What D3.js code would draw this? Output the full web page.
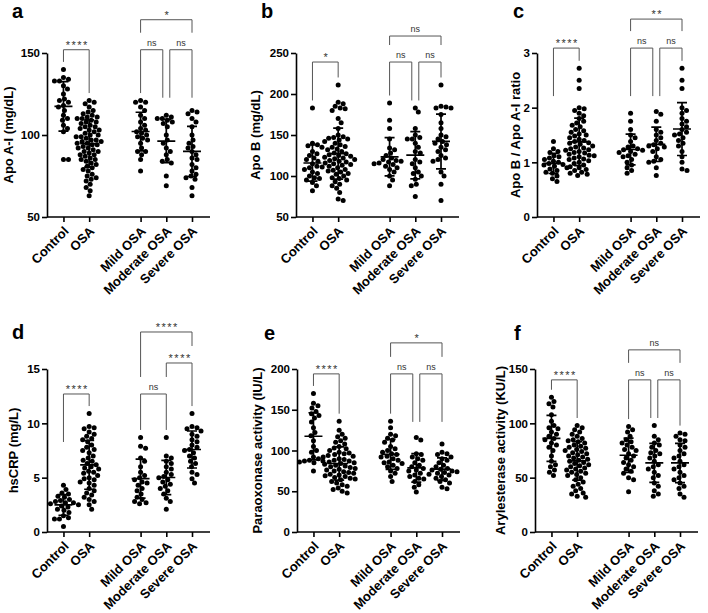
<!DOCTYPE html>
<html>
<head>
<meta charset="utf-8">
<script src="https://cdn.jsdelivr.net/npm/d3@7"></script>
<style>
  body { margin: 0; background: #fff; }
  text { font-family: "Liberation Sans", Arial, sans-serif; }
</style>
</head>
<body>
<div id="chart"></div>
<script>
// categories and their slots on the x axis (gap between OSA and Mild OSA)
let groups = ["Control", "OSA", "Mild OSA", "Moderate OSA", "Severe OSA"];
let groupSlot = [0, 1, 3, 4, 5];

// a - Apo A-I (mg/dL)
let apoA_control = [140, 135, 134, 133, 133, 130, 128, 125, 122, 121, 120, 118, 117, 115, 112, 110, 109, 106, 104, 102, 85, 85];
let apoA_osa = [121, 120, 119, 117, 115, 114, 113, 112, 111, 111, 110, 110, 109, 108, 108, 107, 106, 105, 105, 104, 103, 103, 102, 101, 100, 100, 99, 99, 98, 97, 97, 96, 96, 95, 95, 94, 94, 93, 92, 92, 91, 90, 90, 89, 88, 88, 87, 86, 85, 85, 84, 83, 82, 81, 80, 79, 78, 76, 75, 74, 73, 72, 70, 68, 66, 63];
let apoA_mild = [121, 120, 120, 117, 115, 112, 110, 108, 106, 104, 103, 102, 101, 100, 99, 98, 97, 95, 92, 90, 90, 88, 85, 78];
let apoA_moderate = [112, 111, 110, 110, 109, 108, 107, 105, 100, 97, 95, 92, 90, 88, 85, 84, 83, 75, 69];
let apoA_severe = [115, 114, 113, 110, 108, 105, 100, 97, 95, 93, 92, 90, 88, 86, 85, 82, 80, 78, 76, 75, 74, 73, 68, 63];

// b - Apo B (mg/dL)
let apoB_control = [183, 140, 138, 137, 135, 130, 127, 125, 122, 120, 118, 115, 112, 110, 108, 105, 103, 100, 98, 97, 95, 92, 88, 82];
let apoB_osa = [211, 190, 188, 185, 183, 182, 180, 170, 165, 158, 150, 148, 147, 146, 145, 144, 142, 140, 138, 136, 135, 133, 132, 130, 128, 127, 126, 125, 124, 123, 122, 121, 120, 119, 118, 117, 116, 115, 114, 113, 112, 111, 110, 108, 107, 106, 105, 103, 102, 100, 98, 97, 95, 93, 90, 88, 85, 80, 72, 70];
let apoB_mild = [189, 168, 158, 145, 134, 132, 128, 125, 122, 120, 119, 118, 117, 116, 115, 114, 112, 110, 108, 105, 100, 95, 88];
let apoB_moderate = [183, 178, 158, 150, 147, 145, 145, 140, 135, 130, 128, 120, 117, 115, 110, 105, 103, 100, 96, 90, 88, 75];
let apoB_severe = [211, 185, 184, 183, 183, 175, 165, 158, 150, 148, 145, 142, 140, 138, 135, 132, 130, 125, 122, 120, 118, 105, 100, 90, 70];

// c - Apo B / Apo A-I ratio
let ratio_control = [1.38, 1.25, 1.2, 1.18, 1.12, 1.1, 1.08, 1.05, 1.02, 1.0, 0.98, 0.96, 0.95, 0.93, 0.9, 0.88, 0.85, 0.82, 0.8, 0.75, 0.7, 0.65];
let ratio_osa = [2.72, 2.5, 2.35, 2.0, 1.98, 1.95, 1.9, 1.85, 1.8, 1.75, 1.72, 1.68, 1.65, 1.6, 1.58, 1.55, 1.52, 1.5, 1.48, 1.45, 1.42, 1.4, 1.38, 1.36, 1.35, 1.33, 1.3, 1.28, 1.26, 1.25, 1.23, 1.22, 1.2, 1.18, 1.17, 1.15, 1.13, 1.12, 1.1, 1.08, 1.06, 1.05, 1.03, 1.0, 0.98, 0.95, 0.92, 0.9, 0.87, 0.85, 0.82, 0.8, 0.78, 0.76];
let ratio_mild = [1.9, 1.75, 1.6, 1.5, 1.45, 1.38, 1.3, 1.28, 1.25, 1.23, 1.22, 1.2, 1.18, 1.15, 1.12, 1.1, 1.05, 1.0, 0.95, 0.9, 0.85, 0.8];
let ratio_moderate = [1.93, 1.88, 1.75, 1.6, 1.55, 1.5, 1.45, 1.4, 1.35, 1.32, 1.3, 1.28, 1.25, 1.2, 1.1, 1.05, 1.02, 1.0, 0.9, 0.76];
let ratio_severe = [2.72, 2.5, 2.35, 2.0, 1.95, 1.9, 1.8, 1.75, 1.7, 1.65, 1.6, 1.55, 1.52, 1.5, 1.45, 1.4, 1.35, 1.3, 1.2, 1.1, 1.0, 0.88, 0.85];

// d - hsCRP (mg/L)
let crp_control = [4.3, 3.9, 3.6, 3.5, 3.3, 3.2, 3.0, 2.9, 2.8, 2.7, 2.7, 2.6, 2.5, 2.4, 2.3, 2.1, 2.0, 1.8, 1.5, 1.3, 1.2, 1.2, 0.5];
let crp_osa = [10.9, 9.7, 9.6, 9.5, 9.2, 9.0, 8.8, 8.6, 8.5, 8.3, 8.0, 7.8, 7.6, 7.5, 7.3, 7.0, 6.8, 6.6, 6.5, 6.3, 6.2, 6.0, 5.9, 5.8, 5.6, 5.5, 5.4, 5.2, 5.0, 4.9, 4.8, 4.6, 4.5, 4.3, 4.0, 3.8, 3.6, 3.4, 3.2, 3.0, 2.8, 2.5, 2.1];
let crp_mild = [8.7, 7.9, 7.7, 6.8, 6.5, 6.0, 5.5, 5.2, 5.0, 4.8, 4.6, 4.5, 4.3, 4.0, 3.8, 3.5, 3.2, 3.0, 2.8, 2.7, 2.6];
let crp_moderate = [8.7, 7.0, 6.8, 6.5, 6.3, 6.0, 5.8, 5.5, 5.3, 5.1, 5.0, 4.8, 4.6, 4.4, 4.2, 4.0, 3.8, 3.5, 3.1, 2.8, 2.1];
let crp_severe = [10.9, 9.7, 9.6, 9.5, 9.3, 9.0, 8.8, 8.5, 8.3, 8.0, 7.8, 7.6, 7.5, 7.3, 7.0, 6.8, 6.5, 6.3, 6.0, 5.5, 5.3, 4.9, 4.5];

// e - Paraoxonase activity (IU/L)
let pon_control = [170, 158, 155, 152, 148, 145, 143, 140, 135, 128, 122, 118, 112, 105, 100, 98, 92, 90, 88, 87, 87, 86, 85, 75];
let pon_osa = [136, 125, 120, 117, 115, 112, 110, 108, 105, 103, 102, 100, 98, 97, 96, 95, 94, 93, 92, 90, 89, 88, 87, 86, 85, 84, 83, 82, 81, 80, 79, 78, 77, 76, 75, 74, 73, 72, 71, 70, 69, 68, 67, 66, 65, 64, 62, 60, 58, 56, 54, 52, 50, 48];
let pon_mild = [136, 128, 120, 118, 115, 113, 110, 105, 102, 100, 98, 96, 95, 93, 92, 90, 88, 86, 85, 84, 82, 80, 78, 75, 72, 68, 62];
let pon_moderate = [116, 113, 96, 95, 92, 90, 88, 85, 82, 80, 78, 76, 75, 72, 70, 68, 66, 65, 62, 58, 55, 49];
let pon_severe = [108, 98, 96, 95, 92, 90, 88, 85, 82, 80, 78, 77, 76, 75, 74, 73, 72, 71, 70, 68, 66, 64, 62, 60, 55, 53];

// f - Arylesterase activity (KU/L)
let aryl_control = [124, 120, 118, 115, 108, 102, 98, 96, 95, 92, 90, 88, 86, 85, 82, 80, 78, 75, 70, 65, 62, 60, 57, 55, 52];
let aryl_osa = [98, 96, 94, 92, 90, 88, 86, 85, 84, 83, 82, 80, 79, 78, 77, 76, 75, 74, 73, 72, 71, 70, 69, 68, 67, 66, 65, 64, 63, 62, 61, 60, 59, 58, 57, 56, 55, 54, 53, 52, 50, 48, 46, 44, 42, 40, 38, 36, 35, 33, 32];
let aryl_mild = [97, 94, 92, 88, 85, 83, 82, 80, 78, 76, 75, 72, 70, 68, 66, 64, 62, 60, 58, 56, 54, 50, 48, 37];
let aryl_moderate = [98, 88, 85, 82, 80, 78, 75, 73, 72, 70, 68, 65, 62, 60, 58, 55, 52, 50, 45, 42, 38, 35, 33];
let aryl_severe = [91, 90, 88, 85, 84, 80, 78, 75, 72, 70, 68, 65, 62, 60, 58, 55, 52, 50, 48, 45, 42, 40, 35, 32];

// significance comparisons (group index pairs) and labels per panel
let sigPairs = [[0, 1], [2, 3], [3, 4], [2, 4]];
let sigLevels = [0, 0, 0, 1];
let sigLevelsD = [0, 0, 1, 2];
let sigA = ["****", "ns", "ns", "*"];
let sigB = ["*", "ns", "ns", "ns"];
let sigC = ["****", "ns", "ns", "**"];
let sigD = ["****", "ns", "****", "****"];
let sigE = ["****", "ns", "ns", "*"];
let sigF = ["****", "ns", "ns", "ns"];

// y ticks
let ticksA = [50, 100, 150];
let ticksB = [50, 100, 150, 200, 250];
let ticksC = [0, 1, 2, 3];
let ticksD = [0, 5, 10, 15];
let ticksE = [0, 50, 100, 150, 200];
let ticksF = [0, 50, 100, 150];

let panels = [
  {letter: "a", title: "Apo A-I (mg/dL)", data: [apoA_control, apoA_osa, apoA_mild, apoA_moderate, apoA_severe],
   ticks: ticksA, sig: sigA, levels: sigLevels, x0: 47, yTop: 53, yBot: 217, lx: 12, ly: 18, tx: 12.5, base: 152, step: 30},
  {letter: "b", title: "Apo B (mg/dL)", data: [apoB_control, apoB_osa, apoB_mild, apoB_moderate, apoB_severe],
   ticks: ticksB, sig: sigB, levels: sigLevels, x0: 296, yTop: 53, yBot: 217, lx: 261, ly: 18, tx: 259.5, base: 239, step: 26},
  {letter: "c", title: "Apo B / Apo A-I ratio", data: [ratio_control, ratio_osa, ratio_mild, ratio_moderate, ratio_severe],
   ticks: ticksC, sig: sigC, levels: sigLevels, x0: 537, yTop: 53, yBot: 217, lx: 513, ly: 18, tx: 520, base: 3.09, step: 29},
  {letter: "d", title: "hsCRP (mg/L)", data: [crp_control, crp_osa, crp_mild, crp_moderate, crp_severe],
   ticks: ticksD, sig: sigD, levels: sigLevelsD, x0: 47, yTop: 369, yBot: 532, lx: 12, ly: 339, tx: 17.5, base: 12.7, step: 31},
  {letter: "e", title: "Paraoxonase activity (IU/L)", data: [pon_control, pon_osa, pon_mild, pon_moderate, pon_severe],
   ticks: ticksE, sig: sigE, levels: sigLevels, x0: 297, yTop: 369, yBot: 532, lx: 264, ly: 340, tx: 261.5, base: 194, step: 31},
  {letter: "f", title: "Arylesterase activity (KU/L)", data: [aryl_control, aryl_osa, aryl_mild, aryl_moderate, aryl_severe],
   ticks: ticksF, sig: sigF, levels: sigLevels, x0: 535, yTop: 369, yBot: 532, lx: 514, ly: 340, tx: 504.5, base: 140, step: 30}
];

let r = 2.5;

let svg = d3.select("#chart")
    .append("svg")
    .attr("width", 708)
    .attr("height", 613);

//simple deterministic beeswarm: offsets around the column centre
function swarm(values, y) {
  let pts = values.map(v => ({v: v, y: y(v)})).sort((a, b) => a.y - b.y);
  let placed = [];
  pts.forEach(p => {
    for (let k = 0; k < 400; k++) {
      let off = k === 0 ? 0 : (k % 2 ? 1 : -1) * Math.ceil(k / 2) * 0.5;
      let hit = placed.some(q => (q.dx - off) ** 2 + (q.y - p.y) ** 2 < (2 * r) ** 2);
      if (!hit) { p.dx = off; break; }
    }
    placed.push(p);
  });
  return placed;
}

panels.forEach(function(p) {
  let domain = d3.extent(p.ticks);
  let y = d3.scaleLinear().domain(domain).range([p.yBot, p.yTop]);
  let x = d3.scaleLinear().domain([-0.64, 5.7]).range([p.x0, p.x0 + 163]);
  let gx = i => x(groupSlot[i]);

  let g = svg.append("g");

  //axes
  g.append("g")
      .attr("transform", `translate(${p.x0}, 0)`)
      .call(d3.axisLeft(y).tickValues(p.ticks).tickFormat(d => d).tickSize(5).tickPadding(2).tickSizeOuter(0))
      .call(a => a.select(".domain").attr("stroke-width", 1.6))
      .call(a => a.selectAll(".tick line").attr("stroke-width", 1.6))
      .call(a => a.selectAll(".tick text").attr("font-size", 11.5).attr("font-weight", "bold")
        .attr("font-family", "Liberation Sans, Arial, sans-serif").attr("fill", "#000"));

  let xAxis = g.append("g")
      .attr("transform", `translate(0, ${p.yBot})`)
      .call(d3.axisBottom(x).tickValues(groupSlot).tickSize(5).tickSizeOuter(0).tickFormat(""));
  xAxis.select(".domain").attr("stroke-width", 1.6).attr("d", `M${p.x0},0H${p.x0 + 163}`);
  xAxis.selectAll(".tick line").attr("stroke-width", 1.6);

  //x labels, rotated
  g.selectAll(".xlab")
      .data(groups)
      .enter()
      .append("text")
      .attr("transform", (d, i) => `translate(${gx(i) + 6}, ${p.yBot + 15}) rotate(-45)`)
      .attr("text-anchor", "end")
      .attr("font-size", 13)
      .attr("font-weight", "bold")
      .text(d => d);

  //y title
  g.append("text")
      .attr("transform", `translate(${p.tx}, ${(p.yTop + p.yBot) / 2}) rotate(-90)`)
      .attr("text-anchor", "middle")
      .attr("font-size", 13)
      .attr("font-weight", "bold")
      .text(p.title);

  //panel letter
  g.append("text")
      .attr("x", p.lx)
      .attr("y", p.ly)
      .attr("font-size", 20)
      .attr("font-weight", "bold")
      .text(p.letter);

  //dots + mean/SD
  p.data.forEach(function(vals, i) {
    let pts = swarm(vals, y);
    g.selectAll(null)
        .data(pts)
        .enter()
        .append("circle")
        .attr("cx", d => gx(i) + d.dx)
        .attr("cy", d => d.y)
        .attr("r", r)
        .attr("fill", "#000");

    let m = d3.mean(vals), sd = d3.deviation(vals);
    let cx = gx(i);
    let path = `M${cx - 9},${y(m)}H${cx + 9}` +
      `M${cx},${y(m + sd)}V${y(m - sd)}` +
      `M${cx - 5},${y(m + sd)}H${cx + 5}` +
      `M${cx - 5},${y(m - sd)}H${cx + 5}`;
    g.append("path")
        .attr("d", path)
        .attr("stroke", "#000")
        .attr("stroke-width", 1.7)
        .attr("fill", "none");
  });

  //significance brackets
  let brackets = sigPairs.map((pair, k) => ({pair: pair, level: p.levels[k], label: p.sig[k]}));
  brackets.forEach(function(b) {
    b.y = y(p.base) - b.level * p.step;
  });
  brackets.forEach(function(b) {
    let ends = b.pair.map((gi, side) => {
      let shared = brackets.some(o => o !== b && o.level === b.level && o.pair.includes(gi));
      let lx = gx(gi) + (shared ? (side === 0 ? 3.5 : -3.5) : 0);
      let obstacle = y(d3.max(p.data[gi])) - r;
      brackets.forEach(o => {
        if (o.level < b.level && gx(o.pair[0]) <= gx(gi) + 1 && gx(o.pair[1]) >= gx(gi) - 1) {
          obstacle = Math.min(obstacle, o.y - 12);
        }
      });
      let end = Math.min(b.y + 48, obstacle - 5);
      return {x: lx, y: Math.max(end, b.y + 6)};
    });
    g.append("path")
        .attr("d", `M${ends[0].x},${ends[0].y}V${b.y}H${ends[1].x}V${ends[1].y}`)
        .attr("stroke", "#555")
        .attr("stroke-width", 1)
        .attr("fill", "none");
    let star = b.label.indexOf("*") >= 0;
    g.append("text")
        .attr("x", (ends[0].x + ends[1].x) / 2 + (star ? 1 : 0))
        .attr("y", b.y - (star ? 1 : 4))
        .attr("text-anchor", "middle")
        .attr("font-size", star ? 11 : 9)
        .attr("letter-spacing", star ? 1.5 : 0)
        .attr("fill", "#333")
        .text(b.label);
  });
});
</script>
</body>
</html>
